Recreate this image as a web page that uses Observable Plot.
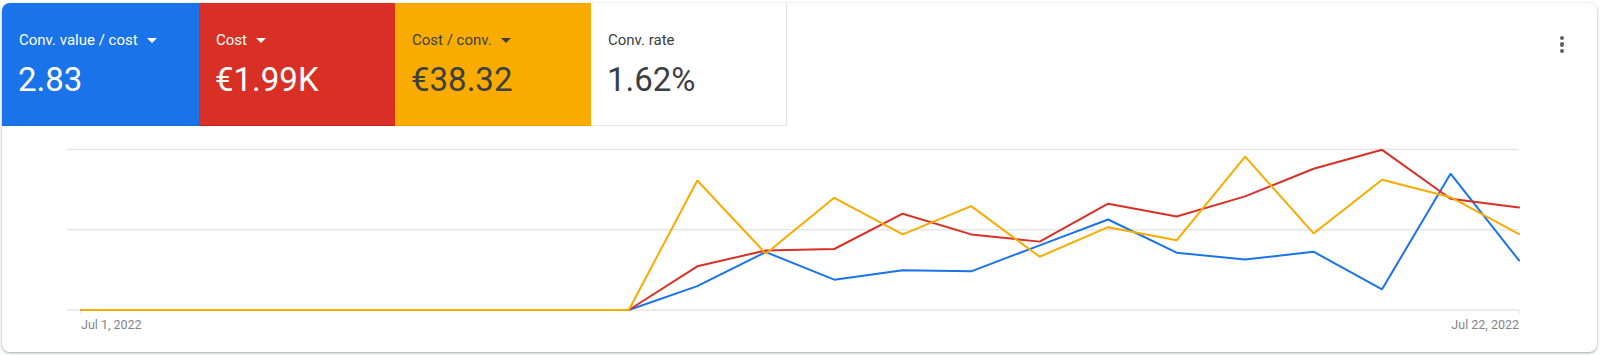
<!DOCTYPE html>
<html>
<head>
<meta charset="utf-8">
<script src="https://cdn.jsdelivr.net/npm/d3@7"></script>
<script src="https://cdn.jsdelivr.net/npm/@observablehq/plot@0.6"></script>
<style>
  html, body { margin: 0; padding: 0; background: #ffffff; width: 1600px; height: 355px; overflow: hidden; font-family: Roboto, "Noto Sans", sans-serif; }
  .card { position: absolute; left: 2px; top: 3px; width: 1595px; height: 349px; border-radius: 8px; background: #fff;
          box-shadow: 0 1px 2px rgba(60,64,67,0.30), 0 1px 3px 1px rgba(60,64,67,0.15); overflow: hidden; }
  .tile { position: absolute; top: 0; height: 123px; box-sizing: border-box; }
  .lbl { position: absolute; left: 17px; top: 30px; font-size: 15px; line-height: 15px; white-space: nowrap; }
  .tri { display: inline-block; width: 0; height: 0; border-left: 5px solid transparent; border-right: 5px solid transparent; border-top: 5px solid currentColor; margin-left: 9px; vertical-align: 2px; }
  .val { position: absolute; left: 16px; top: 60px; font-size: 33px; line-height: 33px; white-space: nowrap; }
  .dot { position: absolute; width: 4.5px; height: 4.5px; border-radius: 50%; background: #5f6368; }
  #chart { position: absolute; left: 0; top: 126px; }
</style>
</head>
<body>
<div class="card" id="card"></div>
<div id="chart"></div>
<script>
// ---- data ----
const metricNames = ["Conv. value / cost", "Cost", "Cost / conv.", "Conv. rate"];
const metricTotals = ["2.83", "€1.99K", "€38.32", "1.62%"];
const metricHasMenu = [true, true, true, false];
const metricColors = ["#1a73e8", "#d93025", "#f9ab00", "#ffffff"];
const metricText = ["#ffffff", "#ffffff", "#3c4043", "#3c4043"];

const days = ["2022-07-01","2022-07-02","2022-07-03","2022-07-04","2022-07-05","2022-07-06","2022-07-07","2022-07-08",
              "2022-07-09","2022-07-10","2022-07-11","2022-07-12","2022-07-13","2022-07-14","2022-07-15","2022-07-16",
              "2022-07-17","2022-07-18","2022-07-19","2022-07-20","2022-07-21","2022-07-22"];
// relative values (chart is plotted on a normalised 0–100 scale; gridlines at 0, 50, 100)
const convValuePerCost = [0,0,0,0,0,0,0,0,0, 14.9, 36.1, 18.9, 24.7, 24.1, 40.3, 56.4, 35.7, 31.4, 36.3, 12.9, 84.9, 30.9];
const cost             = [0,0,0,0,0,0,0,0,0, 27.2, 37.1, 38.0, 60.0, 47.1, 42.6, 66.2, 58.3, 70.8, 88.0, 99.8, 69.3, 63.9];
const costPerConv      = [0,0,0,0,0,0,0,0,0, 80.7, 35.1, 69.9, 47.1, 64.7, 33.2, 51.6, 43.4, 95.6, 47.7, 81.1, 70.3, 47.3];
const gridValues = [0, 50, 100];
const tickDays = ["2022-07-01", "2022-07-22"];
const tickLabels = ["Jul 1, 2022", "Jul 22, 2022"];

// ---- tiles ----
const card = document.getElementById("card");
const tileX = [0, 197, 393, 589];
metricNames.forEach((name, i) => {
  const t = document.createElement("div");
  t.className = "tile";
  t.style.left = tileX[i] + "px";
  t.style.width = (i === 0 ? 197 : 196) + "px";
  t.style.background = metricColors[i];
  t.style.color = metricText[i];
  if (i === 3) { t.style.borderRight = "1px solid #e3e3e3"; t.style.borderBottom = "1px solid #e8e8e8"; }
  else if (i === 1) t.style.borderBottom = "1px solid #c5221f";
  else t.style.borderBottom = "1px solid rgba(0,0,0,0.06)";
  const l = document.createElement("div");
  l.className = "lbl";
  l.textContent = name;
  if (metricHasMenu[i]) { const tr = document.createElement("span"); tr.className = "tri"; l.appendChild(tr); }
  const v = document.createElement("div");
  v.className = "val";
  v.textContent = metricTotals[i];
  if (i >= 2) v.style.color = "#3c4043";
  t.appendChild(l); t.appendChild(v);
  card.appendChild(t);
});
[32.5, 39, 45.5].forEach(y => {
  const d = document.createElement("div");
  d.className = "dot";
  d.style.left = (1557.5) + "px";
  d.style.top = y + "px";
  card.appendChild(d);
});

// ---- chart ----
const parse = d3.utcParse("%Y-%m-%d");
const rows = [];
const series = [["Conv. value / cost", convValuePerCost], ["Cost", cost], ["Cost / conv.", costPerConv]];
series.forEach(([name, vals]) => vals.forEach((v, i) => rows.push({metric: name, date: parse(days[i]), value: v})));
const tDates = tickDays.map(parse);

const chart = Plot.plot({
  width: 1600,
  height: 229,
  marginLeft: 80.5,
  marginRight: 81.5,
  marginTop: 23,
  marginBottom: 45.5,
  style: {fontFamily: "Roboto, sans-serif", background: "transparent", overflow: "visible"},
  x: {type: "utc", domain: [parse(days[0]), parse(days[days.length - 1])], axis: null},
  y: {domain: [0, 100], axis: null},
  color: {domain: metricNames.slice(0, 3), range: metricColors.slice(0, 3)},
  marks: [
    Plot.ruleY(gridValues, {stroke: "#e6e6e6", strokeWidth: 1.5, insetLeft: -13.5}),
    Plot.axisX([tDates[0]], {tickSize: 4, tickPadding: 6, textAnchor: "start", fontSize: 12.5, stroke: "#dadce0", fill: "#80868b",
      tickFormat: () => tickLabels[0]}),
    Plot.axisX([tDates[1]], {tickSize: 4, tickPadding: 6, textAnchor: "end", fontSize: 12.5, stroke: "#dadce0", fill: "#80868b",
      tickFormat: () => tickLabels[1]}),
    Plot.line(rows, {x: "date", y: "value", z: "metric", stroke: "metric", strokeWidth: 2, strokeLinejoin: "miter"})
  ]
});
document.getElementById("chart").appendChild(chart);
</script>
</body>
</html>
